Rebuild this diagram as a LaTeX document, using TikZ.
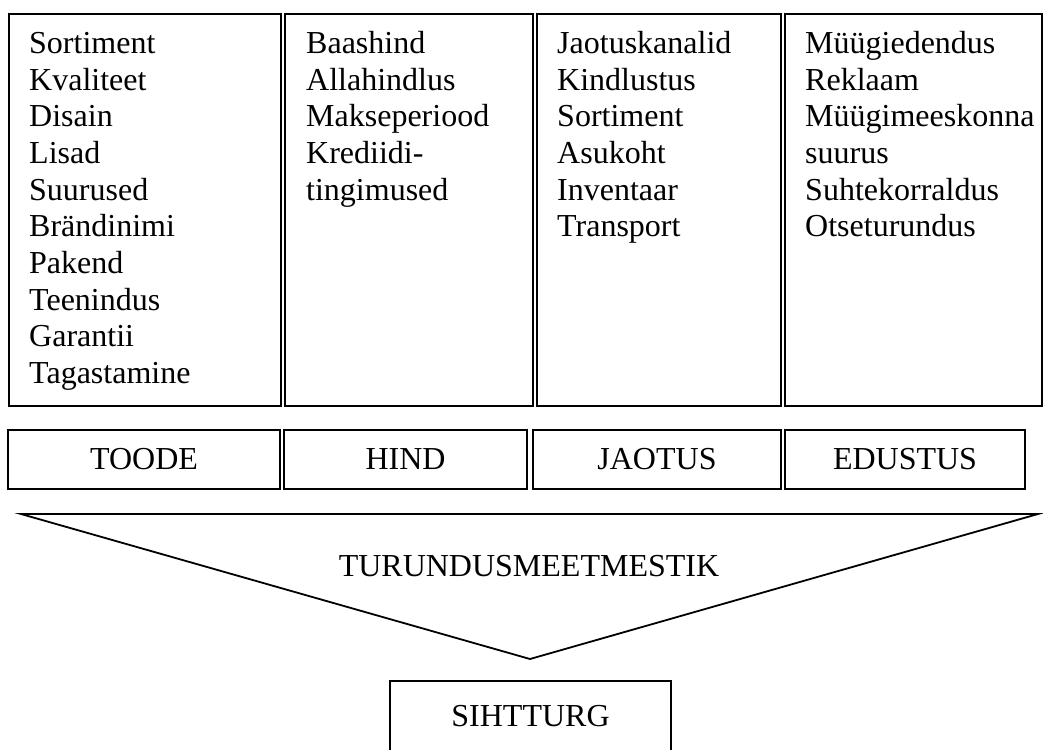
\documentclass[tikz,border=0pt]{standalone}
\usepackage{fontspec}
\setmainfont{Liberation Serif}
\begin{document}
\begin{tikzpicture}[x=1pt,y=-1pt,
  every node/.style={font=\fontsize{32}{36.67}\selectfont},
  boxline/.style={draw, line width=1.8pt},
  colbox/.style={boxline, anchor=north west, inner sep=0pt, minimum height=392pt},
  coltext/.style={anchor=north west, inner sep=0pt, align=left},
  labbox/.style={boxline, inner sep=0pt, minimum height=59pt},
  lab/.style={anchor=base, inner sep=0pt}]
\useasboundingbox[fill=white] (0,0) rectangle (1043,749);

% top columns
\node[colbox, minimum width=272pt] (c1) at (8,13) {};
\node[colbox, minimum width=248pt] (c2) at (284,13) {};
\node[colbox, minimum width=244pt] (c3) at (536,13) {};
\node[colbox, minimum width=257pt] (c4) at (784,13) {};

\node[coltext] (t1) at (29,27.6) {\strut Sortiment\\Kvaliteet\\Disain\\Lisad\\Suurused\\Brändinimi\\Pakend\\Teenindus\\Garantii\\Tagastamine};
\node[coltext] (t2) at (306,27.6) {\strut Baashind\\Allahindlus\\Makseperiood\\Krediidi-\\tingimused};
\node[coltext] (t3) at (557,27.6) {\strut Jaotuskanalid\\Kindlustus\\Sortiment\\Asukoht\\Inventaar\\Transport};
\node[coltext] (t4) at (805,27.6) {\strut Müügiedendus\\Reklaam\\Müügimeeskonna\\suurus\\Suhtekorraldus\\Otseturundus};

% label row
\node[labbox, minimum width=272pt] (toode) at (144,459.5) {TOODE};
\node[labbox, minimum width=243pt] (hind) at (405.5,459.5) {HIND};
\node[labbox, minimum width=248pt] (jaotus) at (657,459.5) {JAOTUS};
\node[labbox, minimum width=240pt] (edustus) at (905,459.5) {EDUSTUS};

% funnel
\coordinate (tl) at (21,514);
\coordinate (tr) at (1038,514);
\coordinate (ap) at (530,659);
\draw[line width=1.8pt, line join=miter] (tl) -- (tr) -- (ap) -- cycle;
\node[lab] (mix) at (529,576) {TURUNDUSMEETMESTIK};

% target market
\node[boxline, anchor=north, inner sep=0pt, minimum width=281pt, minimum height=100pt] (siht) at (530.5,680) {};
\node[lab] (sihtlab) at (530.5,726) {SIHTTURG};
\end{tikzpicture}
\end{document}
